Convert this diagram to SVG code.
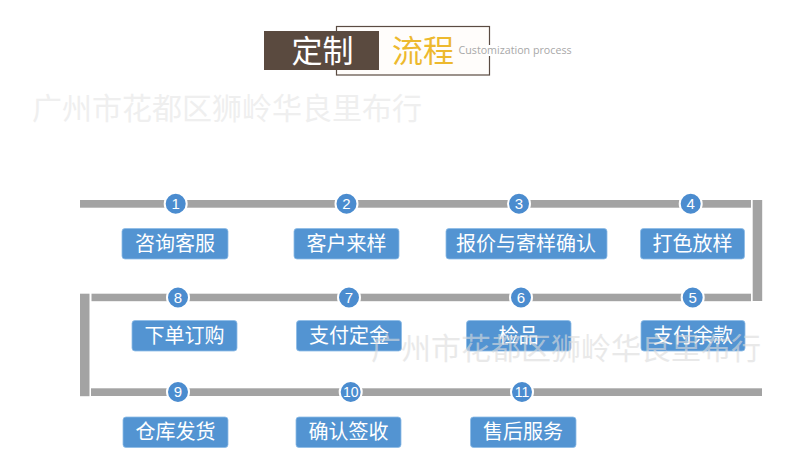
<svg xmlns="http://www.w3.org/2000/svg" width="790" height="475" viewBox="0 0 790 475">
<style>
text{font-family:"Noto Sans CJK SC","Noto Sans",sans-serif}
.bar{fill:#a3a3a3}
.box{fill:#5394d2;stroke:#8dbbe6;stroke-width:.8}
.lbl{fill:#fff;font-size:20px;text-anchor:middle}
.dot{fill:#4b8ccf;stroke:#fff;stroke-width:2}
.num{fill:#fff;font-size:15px;text-anchor:middle;font-family:"Liberation Sans",sans-serif}
.wm{fill:#dcdcdc;opacity:.45;font-size:30px}
</style>
<rect width="790" height="475" fill="#fff"/>
<g id="title">
<rect x="336.500" y="26.500" width="153" height="48.500" fill="#fffdfb" stroke="#5a4b42" stroke-width="1.200"/>
<rect x="486" y="45" width="8" height="11" fill="#fff"/>
<rect x="264" y="31" width="115" height="39" fill="#5a4a3f"/>
<text x="322.500" y="62" font-size="31" fill="#fff" text-anchor="middle">定制</text>
<text x="423" y="62" font-size="31" fill="#edb92e" text-anchor="middle">流程</text>
<text x="458.500" y="54" font-size="10.700" fill="#a8a8a8" style="font-family:'Open Sans',sans-serif">Customization process</text>
</g>
<g id="connectors">
<rect class="bar" x="80" y="200" width="671" height="7.700"/>
<rect class="bar" x="752.700" y="200" width="9.500" height="101"/>
<rect class="bar" x="91.500" y="293.700" width="659.500" height="7.500"/>
<rect class="bar" x="80" y="293.700" width="9.500" height="102.500"/>
<rect class="bar" x="91" y="388.300" width="671" height="7.700"/>
</g>
<g id="step1"><circle class="dot" cx="175.700" cy="203.700" r="11"/><text class="num" x="175.700" y="209">1</text><rect class="box" x="122" y="228.500" width="106" height="30.500" rx="3"/><text class="lbl" x="175" y="250.500">咨询客服</text></g>
<g id="step2"><circle class="dot" cx="346.500" cy="203.700" r="11"/><text class="num" x="346.500" y="209">2</text><rect class="box" x="294" y="228.500" width="105" height="30.500" rx="3"/><text class="lbl" x="346.500" y="250.500">客户来样</text></g>
<g id="step3"><circle class="dot" cx="519" cy="203.700" r="11"/><text class="num" x="519" y="209">3</text><rect class="box" x="446" y="228.500" width="161" height="30.500" rx="3"/><text class="lbl" x="526" y="250.500">报价与寄样确认</text></g>
<g id="step4"><circle class="dot" cx="690.700" cy="203.700" r="11"/><text class="num" x="690.700" y="209">4</text><rect class="box" x="640.500" y="228.500" width="104" height="30.500" rx="3"/><text class="lbl" x="692.500" y="250.500">打色放样</text></g>
<g id="step8"><circle class="dot" cx="178" cy="297.500" r="11"/><text class="num" x="178" y="302.800">8</text><rect class="box" x="132" y="320.500" width="105" height="30.500" rx="3"/><text class="lbl" x="184.500" y="342.500">下单订购</text></g>
<g id="step7"><circle class="dot" cx="349" cy="297.500" r="11"/><text class="num" x="349" y="302.800">7</text><rect class="box" x="296.500" y="320.500" width="105" height="30.500" rx="3"/><text class="lbl" x="349" y="342.500">支付定金</text></g>
<g id="step6"><circle class="dot" cx="521" cy="297.500" r="11"/><text class="num" x="521" y="302.800">6</text><rect class="box" x="466.500" y="320.500" width="104.500" height="30.500" rx="3"/><text class="lbl" x="518.500" y="342.500">检品</text></g>
<g id="step5"><circle class="dot" cx="692.700" cy="297.500" r="11"/><text class="num" x="692.700" y="302.800">5</text><rect class="box" x="641" y="320.500" width="104" height="30.500" rx="3"/><text class="lbl" x="693" y="342.500">支付余款</text></g>
<g id="step9"><circle class="dot" cx="178" cy="392" r="11"/><text class="num" x="178" y="397.300">9</text><rect class="box" x="123" y="417" width="105" height="30.500" rx="3"/><text class="lbl" x="175.500" y="439">仓库发货</text></g>
<g id="step10"><circle class="dot" cx="350.700" cy="392" r="11"/><text class="num" x="350.700" y="397" style="font-size:14px">10</text><rect class="box" x="296" y="417" width="105" height="30.500" rx="3"/><text class="lbl" x="348.500" y="439">确认签收</text></g>
<g id="step11"><circle class="dot" cx="522" cy="392" r="11"/><text class="num" x="522" y="397" style="font-size:14px">11</text><rect class="box" x="470.500" y="417" width="105.500" height="30.500" rx="3"/><text class="lbl" x="523" y="439">售后服务</text></g>
<g id="watermarks">
<text class="wm" x="32" y="119">广州市花都区狮岭华良里布行</text>
<text class="wm" x="371" y="359" style="opacity:.6">广州市花都区狮岭华良里布行</text>
</g>
</svg>
